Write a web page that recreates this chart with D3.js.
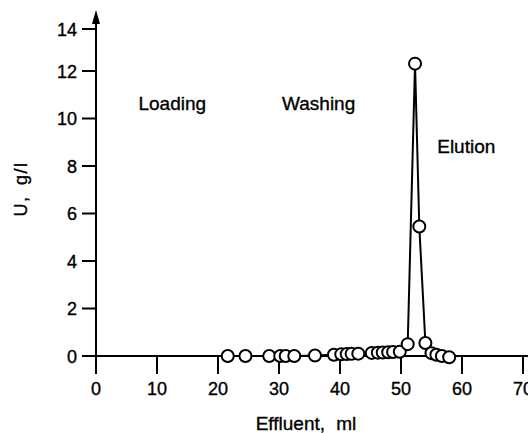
<!DOCTYPE html>
<html>
<head>
<meta charset="utf-8">
<script src="https://cdn.jsdelivr.net/npm/d3@7"></script>
<style>
  body { margin: 0; background: #fff; }
  text { font-family: "Liberation Sans", Arial, sans-serif; fill: #000; stroke: #000; stroke-width: 0.35px; }
</style>
</head>
<body>
<svg id="chart" width="528" height="433"></svg>
<script>
// effluent volume (ml) and uranium concentration (g/l)
const effluent = [21.6, 24.5, 28.4, 30.2, 31.1, 32.5, 35.9, 39.0, 40.2, 41.1, 41.9, 43.0,
  45.2, 46.2, 47.0, 47.9, 48.7, 49.8, 51.1, 52.3, 53.0, 54.0, 55.0, 55.8, 56.7, 57.9];
const uConc = [0, 0, 0, 0, 0, 0, 0.02, 0.05, 0.07, 0.08, 0.09, 0.1,
  0.13, 0.14, 0.15, 0.16, 0.17, 0.18, 0.5, 12.35, 5.45, 0.55, 0.12, 0.05, 0, -0.05];
const xTicks = [0, 10, 20, 30, 40, 50, 60, 70];
const yTicks = [0, 2, 4, 6, 8, 10, 12, 14];
const phases = [
  { label: 'Loading', x: 12.5, y: 10.36 },
  { label: 'Washing', x: 36.5, y: 10.36 },
  { label: 'Elution', x: 60.7, y: 8.55 },
];

const svg = d3.select('#chart');
const x = d3.scaleLinear().domain([0, 70]).range([96, 523]);
const y = d3.scaleLinear().domain([0, 12, 14]).range([356, 71, 29]);

// x axis line
svg.append('line')
  .attr('x1', 82).attr('x2', 528)
  .attr('y1', y(0)).attr('y2', y(0))
  .attr('stroke', '#000').attr('stroke-width', 2);

// y axis line with arrow
svg.append('line')
  .attr('x1', x(0)).attr('x2', x(0))
  .attr('y1', 20).attr('y2', 374)
  .attr('stroke', '#000').attr('stroke-width', 2);
svg.append('path')
  .attr('d', `M${x(0)},10 L${x(0) - 4},24 L${x(0) + 4},24 Z`)
  .attr('fill', '#000');

// x ticks
const xt = svg.append('g');
xt.selectAll('line').data(xTicks).enter().append('line')
  .attr('x1', d => x(d)).attr('x2', d => x(d))
  .attr('y1', y(0)).attr('y2', y(0) + 18)
  .attr('stroke', '#000').attr('stroke-width', 2);
xt.selectAll('text').data(xTicks).enter().append('text')
  .attr('x', d => x(d)).attr('y', 395)
  .attr('text-anchor', 'middle')
  .attr('font-size', 18)
  .text(d => d);

// y ticks
const yt = svg.append('g');
yt.selectAll('line').data(yTicks).enter().append('line')
  .attr('x1', x(0) - 14).attr('x2', x(0))
  .attr('y1', d => y(d)).attr('y2', d => y(d))
  .attr('stroke', '#000').attr('stroke-width', 2);
yt.selectAll('text').data(yTicks).enter().append('text')
  .attr('x', 77).attr('y', d => y(d) + 6.5)
  .attr('text-anchor', 'end')
  .attr('font-size', 18)
  .text(d => d);

// axis titles
svg.append('text')
  .attr('x', 306).attr('y', 430)
  .attr('text-anchor', 'middle')
  .attr('font-size', 19).attr('word-spacing', 6)
  .text('Effluent, ml');
svg.append('text')
  .attr('transform', 'translate(27,189) rotate(-90)')
  .attr('text-anchor', 'middle')
  .attr('font-size', 18).attr('letter-spacing', 1.5).attr('word-spacing', 4)
  .text('U, g/l');

// phase labels
svg.selectAll('text.phase').data(phases).enter().append('text')
  .attr('class', 'phase')
  .attr('x', d => x(d.x)).attr('y', d => y(d.y))
  .attr('text-anchor', 'middle')
  .attr('font-size', 19)
  .text(d => d.label);

// series
const pts = effluent.map((v, i) => [v, uConc[i]]);
svg.append('path')
  .datum(pts)
  .attr('fill', 'none')
  .attr('stroke', '#000').attr('stroke-width', 2)
  .attr('d', d3.line().x(d => x(d[0])).y(d => y(d[1])));
svg.selectAll('circle').data(pts).enter().append('circle')
  .attr('cx', d => x(d[0])).attr('cy', d => y(d[1]))
  .attr('r', 6)
  .attr('fill', '#fff')
  .attr('stroke', '#000').attr('stroke-width', 2);
</script>
</body>
</html>
